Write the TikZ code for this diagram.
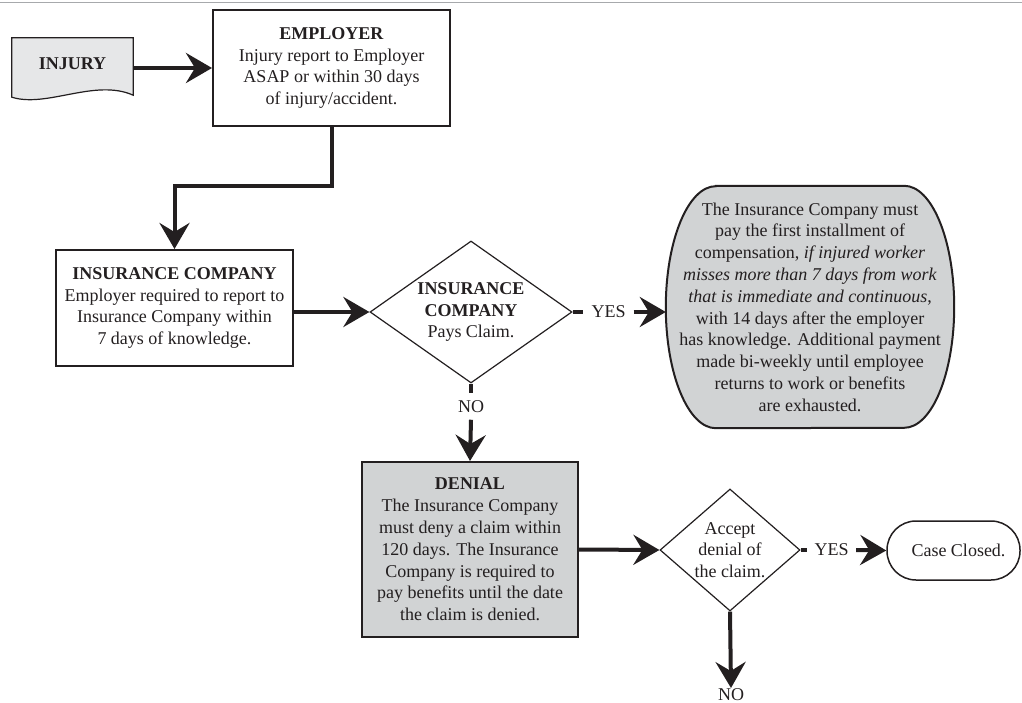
\documentclass[tikz,border=0pt]{standalone}
\usepackage{fontspec}
\setmainfont{Liberation Serif}
\usetikzlibrary{arrows.meta,shapes.geometric,backgrounds}
\definecolor{ink}{HTML}{231F20}
\definecolor{lightfill}{HTML}{E6E7E8}
\definecolor{midfill}{HTML}{D1D3D4}
\definecolor{rulegray}{HTML}{A7A9AC}
\begin{document}
\begin{tikzpicture}[x=1pt,y=-1pt,
  every node/.style={font=\fontsize{18}{21.8}\selectfont, text=ink},
  box/.style={draw=ink, line width=2pt, rectangle, align=center, inner sep=0pt},
  decision/.style={draw=ink, line width=1.2pt, diamond, align=center, inner sep=0pt, fill=white},
  conn/.style={draw=ink, line width=4pt},
  arr/.style={conn, -{Stealth[length=26pt,width=30pt,inset=9pt]}},
  lbl/.style={inner xsep=8pt, inner ysep=7pt, fill=white}]
\useasboundingbox (0,0) rectangle (1022,703);
\draw[rulegray, line width=1.5pt] (0,2.5) -- (1022,2.5);

% injury (document shape)
\node (injury) [minimum width=121pt, minimum height=51pt, inner sep=0pt] at (72.5,63.5) {\textbf{INJURY}};
\begin{pgfonlayer}{background}
\draw[ink, line width=1.2pt, fill=lightfill]
  (injury.north west) -- (injury.north east) -- ([yshift=-6pt]injury.south east)
  .. controls ([xshift=-38pt,yshift=11pt]injury.south east) and ([xshift=35pt,yshift=-19pt]injury.south west) ..
  ([yshift=-8pt]injury.south west) -- cycle;
\end{pgfonlayer}

% employer
\node (emp) [box, minimum width=237pt, minimum height=116pt] at (331.5,68)
  {\textbf{EMPLOYER}\\Injury report to Employer\\ASAP or within 30 days\\of injury/accident.};

% insurance company
\node (ins) [box, minimum width=237pt, minimum height=116pt] at (174.5,308)
  {\textbf{INSURANCE COMPANY}\\Employer required to report to\\Insurance Company within\\7 days of knowledge.};

% decision 1
\node (d1) [decision, aspect=1.42, minimum width=202pt, minimum height=142pt] at (471,312)
  {\textbf{INSURANCE}\\\textbf{COMPANY}\\Pays Claim.};

% pay (rounded oval)
\node (pay) [align=center, inner sep=0pt, minimum width=288pt, minimum height=242pt] at (810,307)
  {The Insurance Company must\\pay the first installment of\\compensation, \textit{if injured worker}\\\textit{misses more than 7 days from work}\\\textit{that is immediate and continuous},\\with 14 days after the employer\\has knowledge. Additional payment\\made bi-weekly until employee\\returns to work or benefits\\are exhausted.};
\begin{pgfonlayer}{background}
\draw[ink, line width=2pt, fill=midfill]
  ([xshift=50pt]pay.north west) -- ([xshift=-50pt]pay.north east)
  arc[start angle=90, end angle=-90, x radius=50pt, y radius=121pt]
  -- ([xshift=50pt]pay.south west)
  arc[start angle=270, end angle=90, x radius=50pt, y radius=121pt] -- cycle;
\end{pgfonlayer}

% denial
\node (den) [box, fill=midfill, minimum width=216pt, minimum height=175pt] at (470,549.5)
  {\textbf{DENIAL}\\The Insurance Company\\must deny a claim within\\120 days. The Insurance\\Company is required to\\pay benefits until the date\\the claim is denied.};

% decision 2
\node (d2) [decision, aspect=1.15, minimum width=140pt, minimum height=122pt] at (730,550)
  {Accept\\denial of\\the claim.};

% case closed
\node (closed) [draw=ink, line width=1.5pt, rectangle, rounded corners=29pt, minimum width=133pt, minimum height=59pt, inner sep=0pt] at (953.5,550.5) {\hspace*{10pt}Case Closed.};

% labels
\node (yes1) [lbl] at (608.5,312) {YES};
\node (no1) [lbl] at (471,406.5) {NO};
\node (yes2) [lbl, inner xsep=7.5pt] at (831.5,550) {YES};
\node (no2) [inner xsep=2pt, inner ysep=0.8pt, anchor=north] at (731,688) {NO};

% connectors
\draw[arr] (injury.east |- emp.west) -- (emp.west);
\coordinate (bend) at (0,186);
\draw[arr] (emp.south) -- (emp.south |- bend) -| (ins.north);
\draw[arr] (ins.east |- d1.west) -- (d1.west);
\draw[conn] (d1.east) -- (yes1.west);
\draw[arr] (yes1.east) -- (pay.west |- yes1.east);
\draw[conn] (d1.south) -- (no1.north);
\draw[arr] (no1.south) -- (den.north);
\draw[arr] (den.east) -- (d2.west);
\draw[conn] (d2.east) -- (yes2.west);
\draw[arr] (yes2.east) -- (closed.west);
\draw[arr] (d2.south) -- (no2.north);
\end{tikzpicture}
\end{document}
